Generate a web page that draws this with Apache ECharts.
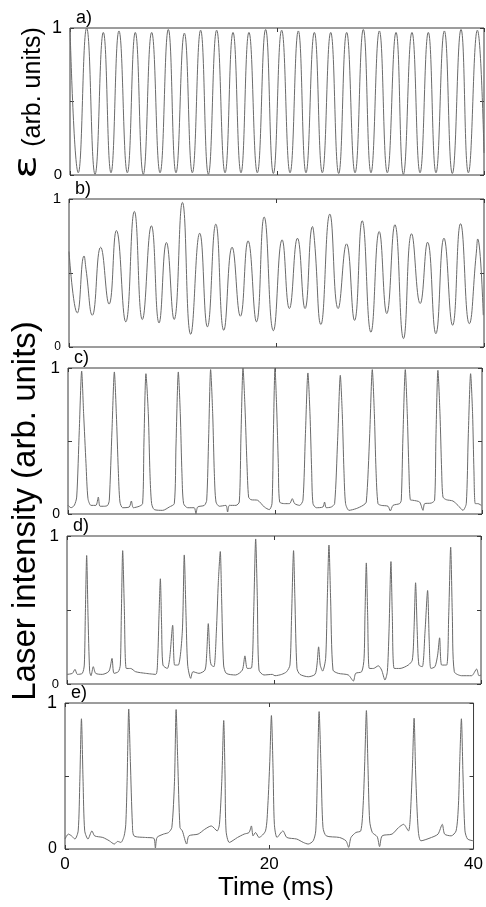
<!DOCTYPE html>
<html><head><meta charset="utf-8">
<script src="https://cdn.jsdelivr.net/npm/echarts@6/dist/echarts.min.js"></script>
<style>html,body{margin:0;padding:0;background:#fff}#c{width:486px;height:907px}</style>
</head><body><div id="c"></div>
<script>
// ---- data (time in ms, intensity in arb. units) ----
const xTickLabels = ['0', '20', '40'];
const yTickLabels = ['0', '1'];
const panelLabels = ['a)', 'b)', 'c)', 'd)', 'e)'];
const xTitle = 'Time (ms)';
const yTitle = 'Laser intensity (arb. units)';
const yTitleA = ['\u03b5', '(arb. units)'];

const traceA = [[0,1.0],[0.80,0.015],[1.61,1.0],[2.42,0.005],[3.22,0.97],[3.96,0.015],[4.73,0.98],[5.54,0.015],[6.31,0.97],[7.08,0.005],[7.89,0.97],[8.70,0.015],[9.50,0.99],[10.24,0.015],[11.05,0.965],[11.82,0.015],[12.62,0.985],[13.37,0.005],[14.17,0.985],[14.98,0.015],[15.75,0.97],[16.52,0.015],[17.29,0.97],[18.10,0.015],[18.90,0.99],[19.65,0.01],[20.45,0.985],[21.26,0.015],[22.06,0.98],[22.80,0.015],[23.61,0.97],[24.38,0.015],[25.19,0.97],[25.96,0.01],[26.73,0.97],[27.54,0.015],[28.34,0.99],[29.08,0.015],[29.89,0.98],[30.66,0.015],[31.50,0.97],[32.21,0.005],[33.04,0.97],[33.82,0.015],[34.62,0.97],[35.36,0.015],[36.17,0.98],[36.94,0.01],[37.78,0.99],[38.49,0.015],[39.36,0.985],[40,0.15]];

const traceB = [[0,0.645],[0.80,0.23],[1.45,0.615],[1.64,0.525],[2.25,0.215],[3.05,0.674],[3.86,0.29],[4.57,0.787],[5.47,0.17],[6.30,0.916],[7.07,0.186],[7.94,0.819],[8.68,0.163],[9.39,0.706],[10.13,0.186],[10.93,0.977],[11.73,0.086],[12.60,0.769],[13.34,0.136],[14.15,0.83],[14.92,0.113],[15.72,0.674],[16.52,0.208],[17.26,0.717],[18.07,0.17],[18.81,0.878],[19.70,0.11],[20.54,0.724],[21.24,0.26],[22.02,0.735],[22.75,0.26],[23.47,0.814],[23.66,0.72],[24.28,0.152],[25.14,0.898],[25.94,0.26],[26.75,0.697],[27.52,0.18],[28.26,0.853],[29.10,0.10],[29.90,0.78],[30.63,0.226],[31.41,0.826],[32.24,0.057],[33.02,0.765],[33.85,0.294],[34.56,0.708],[35.36,0.09],[36.14,0.735],[36.97,0.147],[37.74,0.833],[38.58,0.158],[39.25,0.63],[39.39,0.73],[39.93,0.215]];

const traceC = [[0,0.06],[0.29,0.043],[0.61,0.059],[0.84,0.116],[1.09,0.573],[1.32,0.979],[1.51,0.687],[1.74,0.345],[1.93,0.105],[2.22,0.059],[2.70,0.059],[2.93,0.116],[3.09,0.053],[3.51,0.053],[3.83,0.059],[3.99,0.094],[4.25,0.573],[4.48,0.973],[4.67,0.687],[4.86,0.30],[5.02,0.082],[5.28,0.043],[5.92,0.048],[6.12,0.089],[6.31,0.043],[6.89,0.053],[7.21,0.071],[7.34,0.50],[7.53,0.961],[7.76,0.687],[7.92,0.276],[8.08,0.071],[8.34,0.030],[9.15,0.025],[9.79,0.048],[10.27,0.071],[10.43,0.459],[10.66,0.973],[10.85,0.687],[11.01,0.276],[11.17,0.071],[11.56,0.043],[12.20,0.043],[12.36,0.002],[12.53,0.048],[13.17,0.059],[13.40,0.094],[13.59,0.527],[13.78,0.989],[13.98,0.687],[14.14,0.276],[14.30,0.082],[14.62,0.053],[15.26,0.059],[15.42,0.014],[15.59,0.059],[16.23,0.059],[16.55,0.082],[16.71,0.527],[16.91,1.0],[17.10,0.733],[17.29,0.345],[17.45,0.116],[17.68,0.098],[18.32,0.094],[18.97,0.048],[19.45,0.030],[19.71,0.071],[19.84,0.527],[20.0,1.0],[20.16,0.733],[20.32,0.345],[20.45,0.082],[20.93,0.071],[21.41,0.071],[21.67,0.105],[21.90,0.071],[22.38,0.059],[22.70,0.094],[22.93,0.527],[23.18,0.966],[23.38,0.687],[23.54,0.30],[23.67,0.071],[23.99,0.043],[24.63,0.048],[24.79,0.082],[24.95,0.043],[25.44,0.048],[25.76,0.071],[26.05,0.505],[26.31,0.95],[26.50,0.687],[26.66,0.30],[26.82,0.071],[27.15,0.025],[27.85,0.037],[28.50,0.059],[28.82,0.082],[29.14,0.527],[29.40,0.989],[29.60,0.687],[29.76,0.30],[29.95,0.071],[30.27,0.059],[30.92,0.053],[31.14,0.021],[31.40,0.059],[32.04,0.071],[32.20,0.094],[32.36,0.527],[32.59,0.989],[32.78,0.687],[32.94,0.30],[33.07,0.098],[33.33,0.094],[33.97,0.082],[34.30,0.025],[34.46,0.071],[35.10,0.075],[35.42,0.094],[35.55,0.527],[35.74,0.984],[35.94,0.687],[36.10,0.30],[36.23,0.116],[36.55,0.098],[37.19,0.089],[37.68,0.059],[38.16,0.025],[38.48,0.071],[38.67,0.527],[38.90,0.961],[39.09,0.687],[39.22,0.30],[39.35,0.071],[39.61,0.071],[39.93,0.059]];

const traceD = [[0,0.065],[0.52,0.072],[0.77,0.099],[1.00,0.065],[1.48,0.072],[1.67,0.128],[1.77,0.464],[1.90,0.868],[2.03,0.464],[2.19,0.083],[2.32,0.056],[2.54,0.117],[2.77,0.072],[3.41,0.065],[4.06,0.087],[4.35,0.173],[4.54,0.072],[4.96,0.083],[5.15,0.128],[5.25,0.464],[5.38,0.901],[5.54,0.509],[5.73,0.105],[6.15,0.105],[6.63,0.083],[7.60,0.072],[8.57,0.065],[8.76,0.173],[8.89,0.464],[9.02,0.711],[9.14,0.397],[9.27,0.128],[9.69,0.105],[9.92,0.173],[10.21,0.397],[10.40,0.128],[10.75,0.128],[11.14,0.352],[11.33,0.872],[11.50,0.464],[11.66,0.128],[11.95,0.038],[12.17,0.083],[12.75,0.072],[13.33,0.094],[13.49,0.195],[13.65,0.408],[13.82,0.173],[13.94,0.128],[14.20,0.117],[14.43,0.352],[14.62,0.688],[14.81,0.895],[14.94,0.576],[15.13,0.128],[15.39,0.072],[16.29,0.061],[16.94,0.094],[17.19,0.19],[17.42,0.105],[17.84,0.11],[18.03,0.464],[18.23,0.98],[18.39,0.576],[18.55,0.094],[19.03,0.061],[19.84,0.065],[20.09,0.056],[20.74,0.065],[21.22,0.083],[21.54,0.128],[21.70,0.464],[21.89,0.901],[22.02,0.576],[22.22,0.105],[22.51,0.065],[23.31,0.049],[23.96,0.065],[24.15,0.128],[24.31,0.251],[24.47,0.128],[24.70,0.087],[24.99,0.173],[25.15,0.576],[25.31,0.939],[25.47,0.576],[25.70,0.094],[26.21,0.072],[27.18,0.061],[27.67,0.02],[27.89,0.072],[28.47,0.083],[28.70,0.173],[28.79,0.464],[28.92,0.818],[29.05,0.464],[29.21,0.105],[29.60,0.105],[30.08,0.123],[30.40,0.094],[30.72,0.027],[30.95,0.083],[31.11,0.352],[31.30,0.827],[31.43,0.464],[31.62,0.105],[32.17,0.105],[32.97,0.128],[33.36,0.161],[33.52,0.352],[33.68,0.684],[33.84,0.352],[34.00,0.128],[34.33,0.117],[34.59,0.352],[34.84,0.632],[35.00,0.285],[35.16,0.105],[35.55,0.117],[35.81,0.195],[36.00,0.312],[36.20,0.128],[36.68,0.128],[36.88,0.464],[37.07,0.924],[37.23,0.464],[37.42,0.083],[38.13,0.056],[39.09,0.056],[39.58,0.101],[39.80,0.056],[40,0.06]];

const traceE = [[0,0.068],[0.32,0.102],[0.64,0.09],[0.97,0.068],[1.29,0.124],[1.45,0.463],[1.61,0.892],[1.77,0.463],[1.93,0.124],[2.25,0.068],[2.64,0.124],[2.90,0.09],[3.70,0.079],[4.34,0.056],[4.83,0.034],[5.15,0.052],[5.47,0.045],[5.79,0.09],[5.95,0.169],[6.08,0.463],[6.24,0.959],[6.40,0.6],[6.60,0.169],[6.76,0.09],[7.88,0.079],[8.69,0.074],[8.85,0.007],[9.01,0.079],[9.65,0.102],[10.14,0.113],[10.46,0.147],[10.72,0.463],[10.88,0.955],[11.04,0.6],[11.26,0.147],[11.49,0.124],[11.91,0.034],[12.13,0.09],[13.03,0.102],[13.68,0.135],[14.32,0.158],[14.90,0.124],[15.12,0.169],[15.35,0.463],[15.54,0.88],[15.67,0.5],[15.77,0.124],[16.09,0.045],[16.89,0.079],[17.54,0.102],[18.02,0.113],[18.25,0.158],[18.41,0.09],[18.66,0.113],[18.99,0.079],[19.63,0.124],[19.86,0.3],[20.05,0.6],[20.21,0.914],[20.37,0.55],[20.50,0.169],[20.76,0.079],[21.34,0.124],[21.72,0.079],[22.69,0.068],[23.33,0.045],[23.81,0.034],[24.30,0.056],[24.55,0.124],[24.71,0.5],[24.88,0.941],[25.07,0.55],[25.26,0.147],[25.58,0.09],[26.87,0.079],[27.51,0.056],[27.77,0.011],[28.00,0.079],[28.48,0.113],[28.96,0.124],[29.19,0.3],[29.35,0.6],[29.51,0.948],[29.67,0.55],[29.83,0.192],[30.09,0.113],[30.57,0.084],[30.80,0.016],[31.05,0.09],[32.02,0.102],[32.66,0.147],[33.15,0.169],[33.63,0.124],[33.79,0.2],[34.01,0.55],[34.18,0.896],[34.34,0.5],[34.59,0.124],[34.85,0.056],[35.88,0.079],[36.52,0.102],[36.94,0.169],[37.17,0.102],[37.81,0.09],[38.29,0.124],[38.52,0.3],[38.65,0.6],[38.81,0.892],[38.97,0.5],[39.16,0.124],[39.42,0.068],[40,0.056]];

// ---- layout & styles ----
const FONT = '"Liberation Sans", Arial, Helvetica, sans-serif';
const traces = [traceA, traceB, traceC, traceD, traceE];
const layouts = [
  {left:70, top:28,  width:414, height:147, one:18, zero:15, smooth:0.5},
  {left:69, top:199, width:415, height:148, one:15, zero:12, smooth:0.5},
  {left:68, top:368, width:414, height:146, one:17, zero:14, smooth:0.25},
  {left:67, top:536, width:414, height:148, one:17, zero:13, smooth:0.25},
  {left:65, top:703, width:414, height:146, one:18, zero:16, smooth:0.25}
];
const lineColor = '#6a6a6a';
const frameColor = '#3a3a3a';
const mkTick = () => ({show:true, inside:true, length:4, lineStyle:{color:frameColor, width:1}});

const grid = [], xAxis = [], yAxis = [], series = [], graphic = [];
layouts.forEach((L, i) => {
  const last = i === layouts.length - 1;
  grid.push({left:L.left, top:L.top, width:L.width, height:L.height, show:true,
    borderColor:frameColor, borderWidth:1, backgroundColor:'transparent'});
  xAxis.push({gridIndex:i, type:'value', min:0, max:40, interval:20, position:'bottom',
    axisLine:{show:false, onZero:false}, axisTick:mkTick(), splitLine:{show:false},
    axisLabel:{show:last, fontSize:17, color:'#000', margin:7, fontFamily:FONT,
      formatter:(v) => xTickLabels[Math.round(v / 20)]}});
  xAxis.push({gridIndex:i, type:'value', min:0, max:40, interval:20, position:'top',
    axisLine:{show:false, onZero:false}, axisTick:mkTick(), splitLine:{show:false}, axisLabel:{show:false}});
  yAxis.push({gridIndex:i, type:'value', min:0, max:1, interval:0.5, position:'left',
    axisLine:{show:false, onZero:false}, axisTick:mkTick(), splitLine:{show:false},
    axisLabel:{margin:8, color:'#000', fontFamily:FONT,
      formatter:(v) => v === 1 ? '{one|' + yTickLabels[1] + '}' : (v === 0 ? '{zero|' + yTickLabels[0] + '}' : ''),
      rich:{one:{fontSize:L.one, fontFamily:FONT, color:'#000'}, zero:{fontSize:L.zero, fontFamily:FONT, color:'#000'}}}});
  yAxis.push({gridIndex:i, type:'value', min:0, max:1, interval:0.5, position:'right',
    axisLine:{show:false, onZero:false}, axisTick:mkTick(), splitLine:{show:false}, axisLabel:{show:false}});
  series.push({type:'line', xAxisIndex:2 * i, yAxisIndex:2 * i, data:traces[i],
    showSymbol:false, smooth:L.smooth, silent:true,
    lineStyle:{color:lineColor, width:1}});
  graphic.push({type:'text', x:L.left + 6, y:L.top - 1, silent:true,
    style:{text:panelLabels[i], font:'18px ' + FONT, fill:'#000',
      align:'left', verticalAlign:'bottom', textAlign:'left', textVerticalAlign:'bottom'}});
});

graphic.push({type:'text', x:276, y:888, silent:true,
  style:{text:xTitle, font:'26px ' + FONT, fill:'#000',
    align:'center', verticalAlign:'middle', textAlign:'center', textVerticalAlign:'middle'}});
graphic.push({type:'text', x:26, y:511, rotation:Math.PI / 2, silent:true,
  style:{text:yTitle, font:'33px ' + FONT, fill:'#000',
    align:'center', verticalAlign:'middle', textAlign:'center', textVerticalAlign:'middle'}});
graphic.push({type:'text', x:33, y:87, rotation:Math.PI / 2, silent:true,
  style:{text:yTitleA[1], font:'25px ' + FONT, fill:'#000',
    align:'center', verticalAlign:'middle', textAlign:'center', textVerticalAlign:'middle'}});
graphic.push({type:'text', x:28, y:167, rotation:Math.PI / 2, scaleX:1.35, silent:true,
  style:{text:yTitleA[0], font:'32px "DejaVu Sans", sans-serif', fill:'#000',
    align:'center', verticalAlign:'middle', textAlign:'center', textVerticalAlign:'middle'}});

const chart = echarts.init(document.getElementById('c'), null, {renderer:'canvas'});
chart.setOption({animation:false, backgroundColor:'#fff', grid, xAxis, yAxis, series, graphic});
</script></body></html>
